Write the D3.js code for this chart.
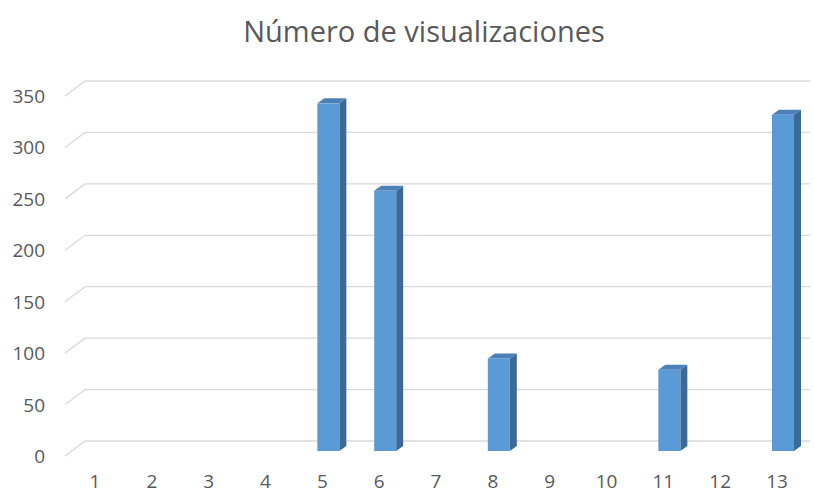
<!DOCTYPE html>
<html>
<head>
<meta charset="utf-8">
<script src="https://cdn.jsdelivr.net/npm/d3@7"></script>
<style>
  html, body { margin: 0; padding: 0; background: #ffffff; }
  svg { display: block; }
</style>
</head>
<body>
<svg id="chart" width="814" height="494"></svg>
<script>
const title = "Número de visualizaciones";
const categories = ["1","2","3","4","5","6","7","8","9","10","11","12","13"];
const values = [0, 0, 0, 0, 338, 253, 0, 90, 0, 0, 79, 0, 327];
const yTicks = [0, 50, 100, 150, 200, 250, 300, 350];

const svg = d3.select("#chart");
const W = 814, H = 494;
svg.append("rect").attr("width", W).attr("height", H).attr("fill", "#fff");

const font = "'Open Sans', 'Noto Sans', sans-serif";
const textColor = "#595959";
const gridColor = "#d9d9d9";

// 3D wall geometry
const wallFrontX = 65, wallBackX = 85, wallRight = 810;
const yFront = d3.scaleLinear().domain([0, 350]).range([456, 96]);
const yBack  = d3.scaleLinear().domain([0, 350]).range([441, 81]);
const yBar   = d3.scaleLinear().domain([0, 350]).range([451, 91]);
const x = d3.scalePoint().domain(categories).range([95, 777]);

// gridlines (side wall diagonal + back wall horizontal)
const grid = svg.append("g").attr("fill", "none").attr("stroke", gridColor).attr("stroke-width", 1.3);
grid.selectAll("path").data(yTicks).join("path")
  .attr("d", v => `M${wallFrontX},${yFront(v)}L${wallBackX},${yBack(v)}L${wallRight},${yBack(v)}`);

// y axis labels
svg.append("g").selectAll("text").data(yTicks).join("text")
  .attr("x", 45).attr("y", v => yFront(v) + 7)
  .attr("text-anchor", "end")
  .attr("font-family", font).attr("font-size", 19).attr("fill", textColor)
  .text(d => d);

// x axis labels
svg.append("g").selectAll("text").data(categories).join("text")
  .attr("x", d => x(d)).attr("y", 488)
  .attr("text-anchor", "middle")
  .attr("font-family", font).attr("font-size", 19).attr("fill", textColor)
  .text(d => d);

// bars (3D)
const bw = 22, dx = 7, dy = -5, off = -5;
const data = categories.map((c, i) => ({c, v: values[i]})).filter(d => d.v > 0);
const bars = svg.append("g").selectAll("g").data(data).join("g");
bars.each(function(d) {
  const g = d3.select(this);
  const x0 = x(d.c) + off, x1 = x0 + bw;
  const yb = yBar(0), yt = yBar(d.v);
  // side
  g.append("path").attr("fill", "#3d6a95")
    .attr("d", `M${x1},${yb}L${x1+dx},${yb+dy}L${x1+dx},${yt+dy}L${x1},${yt}Z`);
  // top
  g.append("path").attr("fill", "#4c80b6")
    .attr("d", `M${x0},${yt}L${x0+dx},${yt+dy}L${x1+dx},${yt+dy}L${x1},${yt}Z`);
  // front
  g.append("rect").attr("x", x0).attr("y", yt).attr("width", bw).attr("height", yb - yt)
    .attr("fill", "#5b9bd5");
});

// title
svg.append("text")
  .attr("x", 424).attr("y", 42)
  .attr("text-anchor", "middle")
  .attr("font-family", font).attr("font-size", 29).attr("fill", textColor)
  .text(title);
</script>
</body>
</html>
